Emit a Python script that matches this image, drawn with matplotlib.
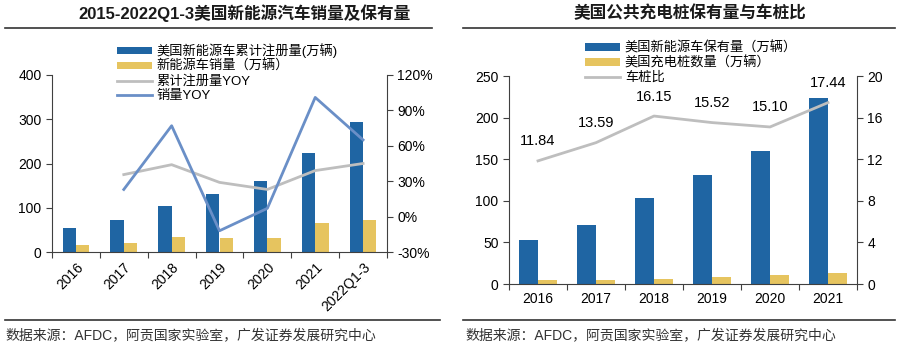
import matplotlib.pyplot as plt
import numpy as np
from matplotlib.lines import Line2D

plt.rcParams['font.family'] = ['Liberation Sans', 'Noto Sans CJK SC']
plt.rcParams['font.size'] = 10

# left chart data
years_l = ["2016", "2017", "2018", "2019", "2020", "2021", "2022Q1-3"]
registered = [54, 72, 104, 131, 160, 223, 294]   # 美国新能源车累计注册量(万辆)
sales = [16, 20, 34, 31, 32, 65, 72]             # 新能源车销量(万辆)
reg_yoy = [None, 35.6, 44, 29, 23, 39, 45]        # 累计注册量YOY, %
sales_yoy = [None, 23, 77, -12, 7, 101, 65]       # 销量YOY, %

# right chart data
years_r = ["2016", "2017", "2018", "2019", "2020", "2021"]
stock = [53, 71, 103, 131, 160, 224]     # 美国新能源车保有量(万辆)
piles = [4.5, 5.2, 6.4, 8.4, 10.6, 12.8]  # 美国充电桩数量(万辆)
ratio = [11.84, 13.59, 16.15, 15.52, 15.10, 17.44]

blue = "#1F65A3"
yellow = "#E6C45F"
gray = "#BEBEBE"
lblue = "#6A8FC7"

W, H = 900, 346
fig = plt.figure(figsize=(9, 3.46), dpi=100)


def box(x0, y0, x1, y1):
    return [x0 / W, 1 - y1 / H, (x1 - x0) / W, (y1 - y0) / H]


def hline(x0, x1, y):
    fig.add_artist(Line2D([x0 / W, x1 / W], [1 - y / H, 1 - y / H], color="#333333", lw=1.2))


def style(ax):
    ax.spines["top"].set_visible(False)
    for s in ["left", "right", "bottom"]:
        ax.spines[s].set_color("#404040")
    ax.tick_params(direction="out", length=4, color="#404040", labelsize=10)


# ---------------- left chart
ax = fig.add_axes(box(52, 75, 387, 252))
x = np.arange(len(years_l))
bw = 0.28
ax.bar(x - bw / 2, registered, bw, color=blue, label="美国新能源车累计注册量(万辆)")
ax.bar(x + bw / 2, sales, bw, color=yellow, label="新能源车销量（万辆）")
ax.set_ylim(0, 400)
ax.set_yticks([0, 100, 200, 300, 400])
ax.set_xlim(-0.5, len(x) - 0.5)
ax.set_xticks(np.arange(len(x) + 1) - 0.5)
ax.set_xticklabels([])
ax.set_xticks(x, minor=True)
ax.set_xticklabels(years_l, minor=True, rotation=45, ha="right", rotation_mode="anchor")
ax.tick_params(axis="x", which="minor", length=0, pad=6)
style(ax)
ax.spines["right"].set_visible(False)

ax2 = ax.twinx()
ax2.plot(x[1:], reg_yoy[1:], color=gray, lw=2, label="累计注册量YOY")
ax2.plot(x[1:], sales_yoy[1:], color=lblue, lw=2, label="销量YOY")
ax2.set_ylim(-30, 120)
ax2.set_yticks([-30, 0, 30, 60, 90, 120])
ax2.set_yticklabels([f"{v}%" for v in [-30, 0, 30, 60, 90, 120]])
style(ax2)
ax2.spines["left"].set_visible(False)
ax2.spines["bottom"].set_visible(False)

h1, l1 = ax.get_legend_handles_labels()
h2, l2 = ax2.get_legend_handles_labels()
fig.legend(h1 + h2, l1 + l2, loc="upper left", bbox_to_anchor=(112 / W, 1 - 38 / H),
           frameon=False, fontsize=9.5, handlelength=2.6, handleheight=0.5,
           labelspacing=0.15, handletextpad=0.4, borderaxespad=0)

fig.text(245 / W, 1 - 13 / H, "2015-2022Q1-3美国新能源汽车销量及保有量", ha="center", va="center",
         fontsize=12, fontweight="bold", color="#1a1a1a")
hline(5, 432, 28)
hline(5, 440, 320)
fig.text(5 / W, 1 - 335 / H, "数据来源：AFDC，阿贡国家实验室，广发证券发展研究中心", ha="left", va="center",
         fontsize=10, color="#333333")

# ---------------- right chart
bx = fig.add_axes(box(509, 76, 857, 284))
xr = np.arange(len(years_r))
bw = 0.33
bx.bar(xr - bw / 2, stock, bw, color=blue, label="美国新能源车保有量（万辆）")
bx.bar(xr + bw / 2, piles, bw, color=yellow, label="美国充电桩数量（万辆）")
bx.set_ylim(0, 250)
bx.set_yticks([0, 50, 100, 150, 200, 250])
bx.set_xlim(-0.5, len(xr) - 0.5)
bx.set_xticks(np.arange(len(xr) + 1) - 0.5)
bx.set_xticklabels([])
bx.set_xticks(xr, minor=True)
bx.set_xticklabels(years_r, minor=True)
bx.tick_params(axis="x", which="minor", length=0, pad=6)
style(bx)
bx.spines["right"].set_visible(False)

bx2 = bx.twinx()
bx2.plot(xr, ratio, color=gray, lw=2, label="车桩比")
for xi, v in zip(xr, ratio):
    bx2.annotate(f"{v:.2f}", (xi, v), xytext=(0, 9), textcoords="offset points",
                 ha="center", va="bottom", fontsize=10.5)
bx2.set_ylim(0, 20)
bx2.set_yticks([0, 4, 8, 12, 16, 20])
style(bx2)
bx2.spines["left"].set_visible(False)
bx2.spines["bottom"].set_visible(False)

h1, l1 = bx.get_legend_handles_labels()
h2, l2 = bx2.get_legend_handles_labels()
fig.legend(h1 + h2, l1 + l2, loc="upper left", bbox_to_anchor=(580 / W, 1 - 36 / H),
           frameon=False, fontsize=9.5, handlelength=2.6, handleheight=0.5,
           labelspacing=0.15, handletextpad=0.4, borderaxespad=0)

fig.text(690 / W, 1 - 13 / H, "美国公共充电桩保有量与车桩比", ha="center", va="center",
         fontsize=12, fontweight="bold", color="#1a1a1a")
hline(463, 895, 28)
hline(463, 895, 320)
fig.text(465 / W, 1 - 335 / H, "数据来源：AFDC，阿贡国家实验室，广发证券发展研究中心", ha="left", va="center",
         fontsize=10, color="#333333")

fig.savefig("out.png", dpi=100)
